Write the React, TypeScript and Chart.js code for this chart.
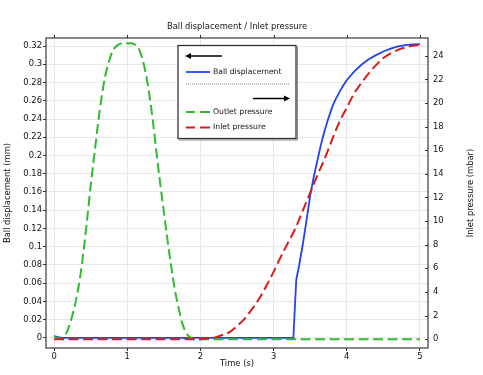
import React, { useEffect, useRef } from "react";
import { Chart, registerables } from "chart.js";

Chart.register(...registerables);

const titleText = "Ball displacement / Inlet pressure";
const xTitle = "Time (s)";
const yLeftTitle = "Ball displacement (mm)";
const yRightTitle = "Inlet pressure (mbar)";
const seriesNames = ["Ball displacement", "Outlet pressure", "Inlet pressure"];

const xTicks = [0, 1, 2, 3, 4, 5];
const leftTicks = [0, 0.02, 0.04, 0.06, 0.08, 0.1, 0.12, 0.14, 0.16, 0.18, 0.2, 0.22, 0.24, 0.26, 0.28, 0.3, 0.32];
const rightTicks = [0, 2, 4, 6, 8, 10, 12, 14, 16, 18, 20, 22, 24];

const ballTime = [0, 0.1, 1, 2, 3, 3.27, 3.31, 3.35, 3.4, 3.45, 3.5, 3.55, 3.6, 3.65, 3.7, 3.75, 3.8, 3.85, 3.9, 3.95, 4.0, 4.1, 4.2, 4.3, 4.4, 4.5, 4.6, 4.7, 4.8, 4.9, 5.0];
const ballDisp = [0.002, 0, 0, 0, 0, 0, 0.064, 0.08, 0.103, 0.129, 0.156, 0.177, 0.195, 0.213, 0.228, 0.241, 0.253, 0.262, 0.2695, 0.2765, 0.2825, 0.292, 0.2995, 0.3055, 0.31, 0.314, 0.3172, 0.3195, 0.321, 0.3218, 0.322];

const outletTime = [0, 0.05, 0.1, 0.15, 0.2, 0.25, 0.3, 0.35, 0.4, 0.45, 0.5, 0.55, 0.6, 0.65, 0.7, 0.75, 0.8, 0.85, 0.9, 0.95, 1.0, 1.05, 1.1, 1.15, 1.2, 1.25, 1.3, 1.35, 1.4, 1.45, 1.5, 1.55, 1.6, 1.65, 1.7, 1.75, 1.8, 1.85, 1.9, 1.95, 2.0, 2.5, 3.0, 3.5, 4.0, 4.5, 5.0];
const outletPressure = [0.2, 0.1, 0, 0.3, 1.0, 2.0, 3.3, 5.0, 7.3, 10.0, 13.0, 15.6, 18.2, 20.5, 22.3, 23.5, 24.4, 24.8, 25.0, 25.05, 25.05, 25.05, 24.95, 24.7, 23.9, 22.6, 20.8, 18.5, 15.8, 13.2, 10.8, 8.4, 6.2, 4.2, 2.7, 1.4, 0.6, 0.2, 0, 0, 0, 0, 0, 0, 0, 0, 0];

const inletTime = [0, 0.5, 1, 1.5, 2.0, 2.1, 2.2, 2.3, 2.4, 2.5, 2.6, 2.7, 2.8, 2.9, 3.0, 3.1, 3.2, 3.3, 3.4, 3.5, 3.6, 3.7, 3.8, 3.9, 4.0, 4.1, 4.2, 4.3, 4.4, 4.5, 4.6, 4.7, 4.8, 4.9, 5.0];
const inletPressure = [0, 0, 0, 0, 0, 0.05, 0.15, 0.35, 0.6, 1.1, 1.7, 2.5, 3.4, 4.5, 5.7, 7.0, 8.2, 9.4, 10.9, 12.4, 13.9, 15.3, 16.9, 18.4, 19.6, 20.8, 21.7, 22.5, 23.2, 23.8, 24.2, 24.5, 24.7, 24.85, 24.9];

const BLUE = "#2244ee";
const GREEN = "#2fba2f";
const RED = "#d81c1c";
const FONT = '"DejaVu Sans", sans-serif';

const toPts = (xs: number[], ys: number[]) => xs.map((x, i) => ({ x, y: ys[i] }));

const fmt = (v: number) => String(Number(v.toFixed(2)));

const decorPlugin = {
  id: "decor",
  afterDraw(chart: any) {
    const { ctx, chartArea } = chart;
    const { left, right, top, bottom } = chartArea;
    const xs = chart.scales.x;
    const y1 = chart.scales.y1;
    ctx.save();
    // frame
    ctx.strokeStyle = "#3a3a3a";
    ctx.lineWidth = 1.2;
    ctx.strokeRect(left, top, right - left, bottom - top);
    // top ticks
    ctx.lineWidth = 1;
    ctx.strokeStyle = "#333";
    ctx.beginPath();
    xTicks.forEach((v) => {
      const px = Math.round(xs.getPixelForValue(v)) + 0.5;
      ctx.moveTo(px, top);
      ctx.lineTo(px, top - 3);
    });
    // right ticks (inward)
    rightTicks.forEach((v) => {
      const py = Math.round(y1.getPixelForValue(v)) + 0.5;
      ctx.moveTo(right, py);
      ctx.lineTo(right - 3, py);
    });
    ctx.stroke();

    // title
    ctx.fillStyle = "#111";
    ctx.font = `8.4px ${FONT}`;
    ctx.textAlign = "center";
    ctx.textBaseline = "middle";
    ctx.fillText(titleText, (left + right) / 2, 27);

    // right axis title (reads bottom to top)
    ctx.save();
    ctx.translate(471, (top + bottom) / 2);
    ctx.rotate(-Math.PI / 2);
    ctx.fillText(yRightTitle, 0, 0);
    ctx.restore();

    // legend box
    const bx = left + 132;
    const by = top + 7.5;
    const bw = 118;
    const bh = 93;
    ctx.fillStyle = "#fff";
    ctx.fillRect(bx, by, bw, bh);
    ctx.strokeStyle = "#888";
    ctx.lineWidth = 1;
    ctx.beginPath();
    ctx.moveTo(bx + bw + 1.5, by + 1);
    ctx.lineTo(bx + bw + 1.5, by + bh + 1.5);
    ctx.lineTo(bx + 1, by + bh + 1.5);
    ctx.stroke();
    ctx.strokeStyle = "#333";
    ctx.lineWidth = 1.3;
    ctx.strokeRect(bx, by, bw, bh);

    const sx = bx + 8;
    const tx = bx + 35;
    // left arrow
    ctx.strokeStyle = "#000";
    ctx.fillStyle = "#000";
    ctx.lineWidth = 1.5;
    let ay = by + 10.5;
    ctx.beginPath();
    ctx.moveTo(sx + 4, ay);
    ctx.lineTo(sx + 36, ay);
    ctx.stroke();
    ctx.beginPath();
    ctx.moveTo(sx - 1, ay);
    ctx.lineTo(sx + 5, ay - 3);
    ctx.lineTo(sx + 5, ay + 3);
    ctx.closePath();
    ctx.fill();

    ctx.font = `7.7px ${FONT}`;
    ctx.textAlign = "left";
    ctx.textBaseline = "middle";
    // blue sample
    const ly = by + 26.5;
    ctx.strokeStyle = BLUE;
    ctx.lineWidth = 1.8;
    ctx.beginPath();
    ctx.moveTo(sx, ly);
    ctx.lineTo(sx + 24, ly);
    ctx.stroke();
    ctx.fillStyle = "#111";
    ctx.fillText(seriesNames[0], tx, ly);

    // dotted separator
    ctx.strokeStyle = "#666";
    ctx.lineWidth = 0.8;
    ctx.setLineDash([1, 1]);
    ctx.beginPath();
    ctx.moveTo(sx, by + 38.5);
    ctx.lineTo(bx + bw - 7, by + 38.5);
    ctx.stroke();
    ctx.setLineDash([]);

    // right arrow
    ay = by + 53;
    ctx.strokeStyle = "#000";
    ctx.fillStyle = "#000";
    ctx.lineWidth = 1.5;
    const ax2 = bx + bw - 7;
    ctx.beginPath();
    ctx.moveTo(ax2 - 36, ay);
    ctx.lineTo(ax2 - 4, ay);
    ctx.stroke();
    ctx.beginPath();
    ctx.moveTo(ax2 + 1, ay);
    ctx.lineTo(ax2 - 5, ay - 3);
    ctx.lineTo(ax2 - 5, ay + 3);
    ctx.closePath();
    ctx.fill();

    // green & red samples
    const samples = [
      { c: GREEN, y: by + 66.5, t: seriesNames[1] },
      { c: RED, y: by + 82, t: seriesNames[2] },
    ];
    samples.forEach((s) => {
      ctx.strokeStyle = s.c;
      ctx.lineWidth = 1.8;
      ctx.beginPath();
      ctx.moveTo(sx, s.y);
      ctx.lineTo(sx + 9, s.y);
      ctx.moveTo(sx + 14, s.y);
      ctx.lineTo(sx + 24, s.y);
      ctx.stroke();
      ctx.fillStyle = "#111";
      ctx.fillText(s.t, tx, s.y);
    });
    ctx.restore();
  },
};

export default function App() {
  const ref = useRef<HTMLCanvasElement | null>(null);
  useEffect(() => {
    if (!ref.current) return;
    Chart.defaults.font.family = FONT;
    Chart.defaults.font.size = 8.4;
    Chart.defaults.color = "#111";
    const chart = new Chart(ref.current, {
      type: "line",
      data: {
        datasets: [
          {
            label: seriesNames[2],
            data: toPts(inletTime, inletPressure),
            yAxisID: "y1",
            borderColor: RED,
            borderWidth: 2,
            borderDash: [10, 4.5],
            pointRadius: 0,
            cubicInterpolationMode: "monotone",
            order: 0,
          },
          {
            label: seriesNames[1],
            data: toPts(outletTime, outletPressure),
            yAxisID: "y1",
            borderColor: GREEN,
            borderWidth: 2,
            borderDash: [10, 4.5],
            pointRadius: 0,
            cubicInterpolationMode: "monotone",
            order: 1,
          },
          {
            label: seriesNames[0],
            data: toPts(ballTime, ballDisp),
            yAxisID: "y",
            borderColor: BLUE,
            borderWidth: 1.8,
            pointRadius: 0,
            tension: 0,
            borderJoinStyle: "round",
            order: 2,
          },
        ],
      },
      options: {
        responsive: false,
        animation: false,
        layout: { padding: { top: 38, left: 0, right: 0, bottom: 0 } },
        plugins: { legend: { display: false }, title: { display: false }, tooltip: { enabled: false } },
        scales: {
          x: {
            type: "linear",
            min: -0.11,
            max: 5.11,
            afterFit: (s: any) => { s.height = 27; },
            afterBuildTicks: (s: any) => { s.ticks = xTicks.map((v) => ({ value: v })); },
            ticks: { callback: (v: any) => String(v), padding: 1, maxRotation: 0, autoSkip: false },
            grid: { color: "#e8e8e8", tickColor: "#333", tickLength: 3 },
            border: { display: false },
            title: { display: true, text: xTitle, padding: { top: 0, bottom: 6.5 } },
          },
          y: {
            type: "linear",
            position: "left",
            min: -0.011,
            max: 0.3288,
            afterFit: (s: any) => { s.width = 46; },
            afterBuildTicks: (s: any) => { s.ticks = leftTicks.map((v) => ({ value: v })); },
            ticks: { callback: (v: any) => fmt(Number(v)), padding: 1, autoSkip: false },
            grid: { color: "#e8e8e8", tickColor: "#333", tickLength: 3 },
            border: { display: false },
            title: { display: true, text: yLeftTitle, padding: { top: 3, bottom: 0 } },
          },
          y1: {
            type: "linear",
            position: "right",
            min: -0.75,
            max: 25.5,
            afterFit: (s: any) => { s.width = 55; },
            afterBuildTicks: (s: any) => { s.ticks = rightTicks.map((v) => ({ value: v })); },
            ticks: { callback: (v: any) => String(v), padding: 5, autoSkip: false },
            grid: { drawOnChartArea: false, drawTicks: false },
            border: { display: false },
            title: { display: false },
          },
        },
      },
      plugins: [decorPlugin],
    } as any);
    return () => chart.destroy();
  }, []);
  return (
    <div style={{ position: "fixed", left: 0, top: 0, width: 483, height: 375, background: "#fff" }}>
      <canvas ref={ref} width={483} height={375} style={{ width: 483, height: 375 }} />
    </div>
  );
}
